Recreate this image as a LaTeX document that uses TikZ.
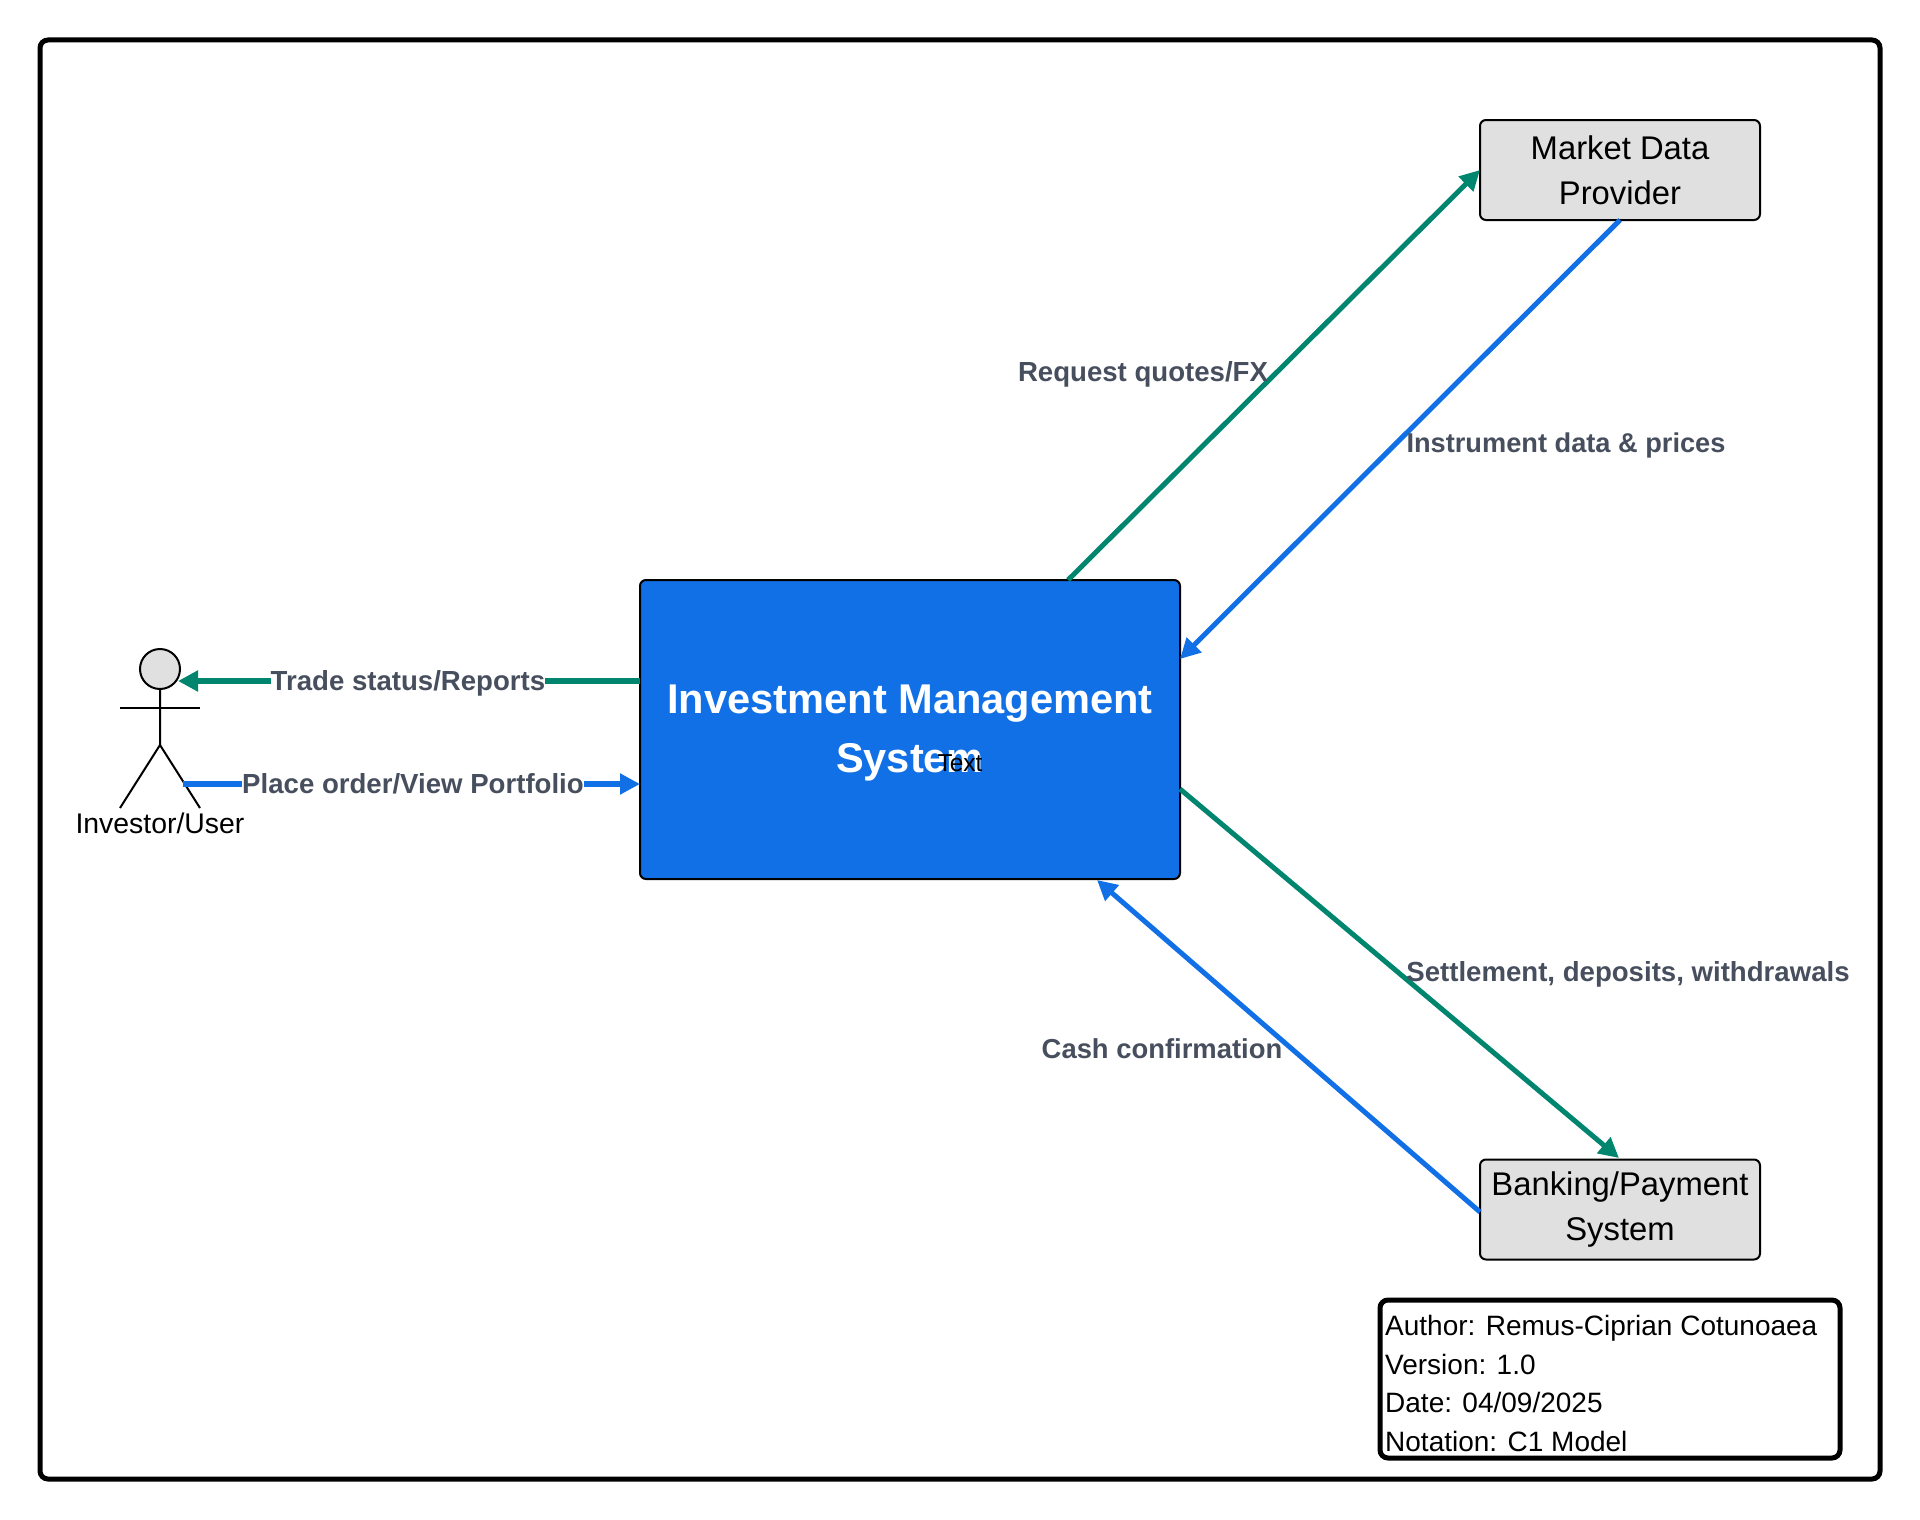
\documentclass[tikz,border=0pt]{standalone}
\usepackage{fontspec}
\setmainfont{Liberation Sans}
\usetikzlibrary{arrows.meta,calc}
\definecolor{blueC}{HTML}{1170E6}
\definecolor{greenC}{HTML}{00856F}
\definecolor{labelC}{HTML}{474F5E}
\definecolor{greyC}{HTML}{E0E0E0}
\tikzset{
  sysbox/.style={draw=black,line width=2pt,rounded corners=6pt,inner sep=0pt,outer sep=0pt,anchor=north west},
  extbox/.style={sysbox,fill=greyC,minimum width=280pt,minimum height=100pt,align=center,font=\fontsize{32.8}{45}\selectfont},
  flow/.style={line width=5pt,-{Triangle[length=20pt,width=20pt]}},
  flowg/.style={flow,draw=greenC},
  flowb/.style={flow,draw=blueC},
  flowh/.style={line width=6pt},
  flowlabel/.style={fill=white,inner sep=0pt,outer sep=0pt,text=labelC,font=\fontsize{27.6}{30}\bfseries\selectfont},
  stick/.style={draw=black,line width=2pt}
}
\begin{document}
\begin{tikzpicture}[x=1pt,y=-1pt]
\useasboundingbox (0,0) rectangle (1920,1520);
\fill[white] (0,0) rectangle (1920,1520);
\node[draw=black,line width=5pt,rounded corners=8pt,minimum width=1840pt,minimum height=1439pt,inner sep=0pt,outer sep=0pt,anchor=north west] (frame) at (40,40) {};
\node[sysbox,fill=blueC,minimum width=540pt,minimum height=299pt] (main) at (640,580) {};
\node[extbox] (market) at (1480,120) {Market Data\\Provider};
\node[extbox] (bank) at (1480,1159.5) {\raisebox{-1.5pt}{Banking/Payment}\\\raisebox{-1.5pt}{System}};
\node[circle,stick,fill=greyC,minimum size=40pt,inner sep=0pt] (head) at (160,669) {};
\coordinate (neck) at (160,745);
\coordinate (footL) at (120,808);
\coordinate (footR) at (200,808);
\coordinate (armL) at (120,708);
\coordinate (armR) at (200,708);
\draw[stick] (head.south) -- (neck) -- (footL);
\draw[stick] (neck) -- (footR);
\draw[stick] (armL) -- (armR);
\node[font=\fontsize{28.4}{30}\selectfont,inner sep=0pt] (actor) at (160,823.5) {Investor/User};
\coordinate (tradeS) at (640,681);
\coordinate (tradeE) at (178,681);
\coordinate (placeS) at (183,784);
\coordinate (placeE) at (640,784);
\coordinate (reqS) at (1068,580);
\coordinate (reqE) at (1480,170);
\coordinate (instS) at (1620,220);
\coordinate (instE) at (1180,659);
\coordinate (setS) at (1180,789);
\coordinate (setE) at (1619,1158);
\coordinate (cashS) at (1480,1212);
\coordinate (cashE) at (1097,880);
\draw[flowg,flowh] (tradeS) -- (tradeE);
\draw[flowb,flowh] (placeS) -- (placeE);
\draw[flowg] (reqS) -- (reqE);
\draw[flowb] (instS) -- (instE);
\draw[flowg] (setS) -- (setE);
\draw[flowb] (cashS) -- (cashE);
\node[flowlabel] (l1) at (408,683) {Trade status/Reports};
\node[flowlabel] (l2) at (413,784) {Place order/View Portfolio};
\node[flowlabel,fill=none] (l3) at (1143,374) {Request quotes/FX};
\node[flowlabel,fill=none,font=\fontsize{27.2}{30}\bfseries\selectfont] (l4) at (1566,445) {Instrument data \& prices};
\node[flowlabel,fill=none] (l5) at (1628,974) {Settlement, deposits, withdrawals};
\node[flowlabel,fill=none,font=\fontsize{27.4}{30}\bfseries\selectfont] (l6) at (1162,1049) {Cash confirmation};
\node[text=white,align=center,inner sep=0pt,font=\fontsize{41.6}{58.5}\bfseries\selectfont] (title) at (910,733) {Investment Management\\System};
\node[inner sep=0pt,font=\fontsize{24.5}{28}\selectfont] (txt) at (960,763) {Text};
\node[draw=black,line width=5pt,rounded corners=8pt,minimum width=460pt,minimum height=158pt,inner sep=0pt,outer sep=0pt,anchor=north west] (meta) at (1380,1300) {};
\node[anchor=north west,inner sep=0pt,align=left,font=\fontsize{28}{38.6}\selectfont] (metaT) at (1385,1315) {Author: Remus-Ciprian Cotunoaea\\Version: 1.0\\Date: 04/09/2025\\Notation: C1 Model};
\end{tikzpicture}
\end{document}
